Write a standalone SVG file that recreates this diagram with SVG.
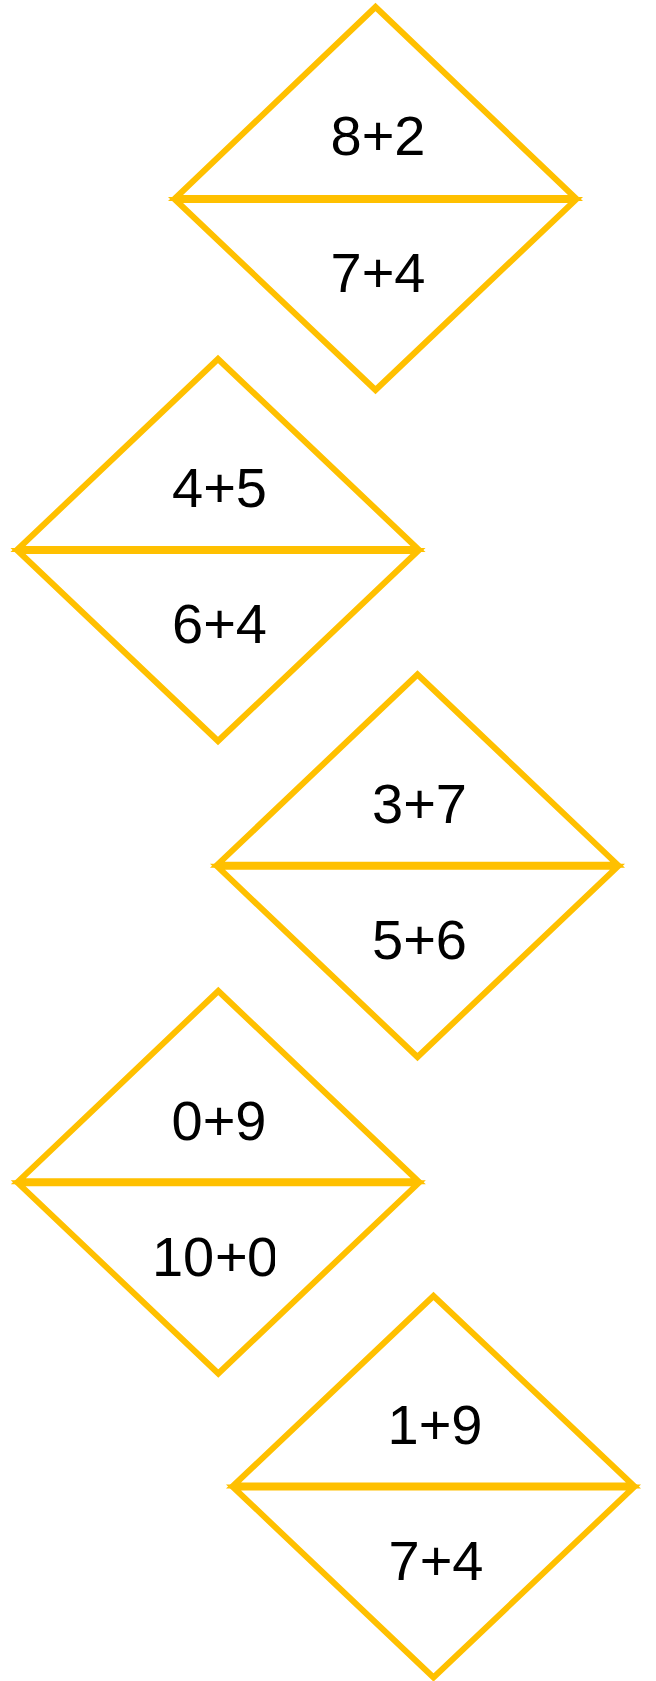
<svg xmlns="http://www.w3.org/2000/svg" width="656" height="1681" viewBox="0 0 656 1681">
<style>
.tri{fill:#FFFFFF;stroke:#FFC000;stroke-width:6;stroke-linejoin:miter;stroke-miterlimit:10}
.lbl{font-family:"Liberation Sans","Open Sans",Arial,sans-serif;font-size:56px;fill:#000000;text-anchor:middle}
.lbs{font-family:"Liberation Sans","Open Sans",Arial,sans-serif;font-size:56px;fill:#000000;text-anchor:start}
</style>
<defs>
<clipPath id="clip4"><rect x="0" y="1200" width="275" height="120"/></clipPath>
</defs>
<rect x="0" y="0" width="656" height="1681" fill="#FFFFFF"/>
<g id="connectors"/>
<g id="card1">
<polygon class="tri" points="175.5,198 375.5,7 575.5,198"/>
<polygon class="tri" points="175.5,200 375.5,390 575.5,200"/>
<text class="lbl" x="378" y="155">8+2</text>
<text class="lbl" x="378" y="292">7+4</text>
</g>
<g id="card2">
<polygon class="tri" points="18,549 218,359 418,549"/>
<polygon class="tri" points="18,551 218,741 418,551"/>
<text class="lbl" x="219.5" y="507">4+5</text>
<text class="lbl" x="219.5" y="643">6+4</text>
</g>
<g id="card3">
<polygon class="tri" points="217.5,864.7 417.5,674.5 617.5,864.7"/>
<polygon class="tri" points="217.5,866.7 417.5,1057 617.5,866.7"/>
<text class="lbl" x="419.5" y="822.5">3+7</text>
<text class="lbl" x="419.5" y="958.5">5+6</text>
</g>
<g id="card4">
<polygon class="tri" points="18.3,1181.3 218.3,991 418.3,1181.3"/>
<polygon class="tri" points="18.3,1183.3 218.3,1373.5 418.3,1183.3"/>
<text class="lbl" x="219" y="1139.5">0+9</text>
<text class="lbs" x="152 183 215 247" y="1276" clip-path="url(#clip4)">10+0</text>
</g>
<g id="card5">
<polygon class="tri" points="233.5,1485.5 433.5,1296 633.5,1485.5"/>
<polygon class="tri" points="233.5,1487.5 433.5,1677.5 633.5,1487.5"/>
<text class="lbl" x="435" y="1443.5">1+9</text>
<text class="lbl" x="436" y="1579.5">7+4</text>
</g>
</svg>
